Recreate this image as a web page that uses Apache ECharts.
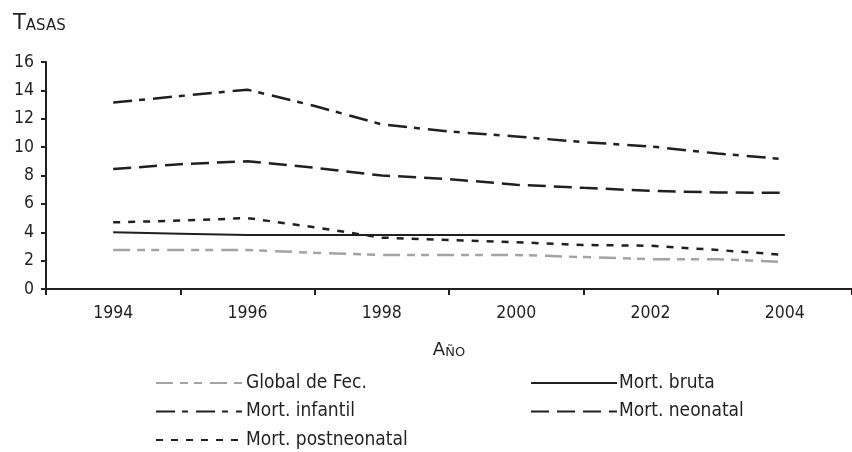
<!DOCTYPE html>
<html>
<head>
<meta charset="utf-8">
<script src="https://cdn.jsdelivr.net/npm/echarts@6/dist/echarts.min.js"></script>
<style>
html,body{margin:0;padding:0;background:#fff;}
#chart{width:852px;height:452px;}
</style>
</head>
<body>
<div id="chart"></div>
<script>
var years = ['1993','1994','1995','1996','1997','1998','1999','2000','2001','2002','2003','2004','2005'];
var globalFec = [null, 2.75, 2.75, 2.75, 2.55, 2.4, 2.4, 2.4, 2.25, 2.1, 2.1, 1.9, null];
var mortBruta = [null, 4.0, 3.9, 3.8, 3.8, 3.8, 3.8, 3.8, 3.8, 3.8, 3.8, 3.8, null];
var mortInfantil = [null, 13.15, 13.6, 14.05, 12.9, 11.6, 11.1, 10.75, 10.35, 10.05, 9.55, 9.15, null];
var mortNeonatal = [null, 8.45, 8.8, 9.0, 8.55, 8.0, 7.75, 7.35, 7.13, 6.92, 6.8, 6.78, null];
var mortPostneonatal = [null, 4.7, 4.82, 5.0, 4.35, 3.62, 3.46, 3.3, 3.1, 3.05, 2.75, 2.4, null];
var yTicks = [0, 2, 4, 6, 8, 10, 12, 14, 16];

var numFont = "'DejaVu Sans Condensed', 'DejaVu Sans', sans-serif";
var txtFont = "'DejaVu Sans Condensed', 'DejaVu Sans', sans-serif";
var capFont = "'DejaVu Sans', sans-serif";
var ink = '#231f20';

var chart = echarts.init(document.getElementById('chart'), null, {renderer: 'canvas'});

function mk(name, data, color, width, dash) {
  return {
    name: name, type: 'line', data: data, symbol: 'none', showSymbol: false,
    connectNulls: false, silent: true, animation: false,
    lineStyle: {color: color, width: width, type: dash, cap: 'butt'},
    itemStyle: {color: color}
  };
}

chart.setOption({
  animation: false,
  backgroundColor: '#ffffff',
  title: {
    text: '{a|T}{b|ASAS}',
    left: 8, top: 7,
    textStyle: {
      fontWeight: 'normal',
      rich: {
        a: {fontFamily: capFont, fontSize: 21, fontWeight: 'normal', color: ink, verticalAlign: 'bottom', lineHeight: 22},
        b: {fontFamily: capFont, fontSize: 15, fontWeight: 'normal', color: ink, verticalAlign: 'bottom', lineHeight: 22}
      }
    }
  },
  grid: {left: 46, right: -2, top: 62, bottom: 163, containLabel: false},
  xAxis: {
    type: 'category',
    data: years,
    boundaryGap: false,
    name: '{a|A}{b|ÑO}',
    nameLocation: 'middle',
    nameGap: 50,
    nameTextStyle: {
      fontWeight: 'normal',
      rich: {
        a: {fontFamily: capFont, fontSize: 18, fontWeight: 'normal', color: ink, verticalAlign: 'bottom', lineHeight: 20},
        b: {fontFamily: capFont, fontSize: 13, fontWeight: 'normal', color: ink, verticalAlign: 'bottom', lineHeight: 20}
      }
    },
    axisLine: {show: true, onZero: false, lineStyle: {color: ink, width: 2}},
    axisTick: {show: true, length: 6, interval: function (i) { return i % 2 === 0; }, lineStyle: {color: ink, width: 2}},
    axisLabel: {show: true, interval: function (i) { return i % 2 === 1; }, margin: 15, fontFamily: numFont, fontSize: 17.5, color: ink},
    splitLine: {show: false}
  },
  yAxis: {
    type: 'value',
    min: yTicks[0], max: yTicks[yTicks.length - 1], interval: 2,
    axisLine: {show: true, lineStyle: {color: ink, width: 2}},
    axisTick: {show: true, length: 5, lineStyle: {color: ink, width: 2}},
    axisLabel: {margin: 12, fontFamily: numFont, fontSize: 17.5, color: ink},
    splitLine: {show: false}
  },
  legend: [
    {
      data: ['Global de Fec.', 'Mort. infantil', 'Mort. postneonatal'],
      orient: 'vertical', left: 155, top: 373,
      itemWidth: 86, itemHeight: 14, itemGap: 8.5, padding: 0,
      selectedMode: false,
      itemStyle: {opacity: 0},
      textStyle: {fontFamily: txtFont, fontSize: 19, color: ink, lineHeight: 20, padding: [0, 0, 0, -1]}
    },
    {
      data: ['Mort. bruta', 'Mort. neonatal'],
      orient: 'vertical', left: 530, top: 373,
      itemWidth: 86, itemHeight: 14, itemGap: 8.5, padding: 0,
      selectedMode: false,
      itemStyle: {opacity: 0},
      textStyle: {fontFamily: txtFont, fontSize: 19, color: ink, lineHeight: 20, padding: [0, 0, 0, -3]}
    }
  ],
  series: [
    mk('Global de Fec.', globalFec, '#a3a3a3', 2.5, [17, 7, 8, 6, 8, 8]),
    mk('Mort. bruta', mortBruta, ink, 2, 'solid'),
    mk('Mort. infantil', mortInfantil, ink, 2.5, [19, 7, 6, 8]),
    mk('Mort. neonatal', mortNeonatal, ink, 2.5, [18, 8]),
    mk('Mort. postneonatal', mortPostneonatal, ink, 2.5, [7, 8])
  ]
});
</script>
</body>
</html>
